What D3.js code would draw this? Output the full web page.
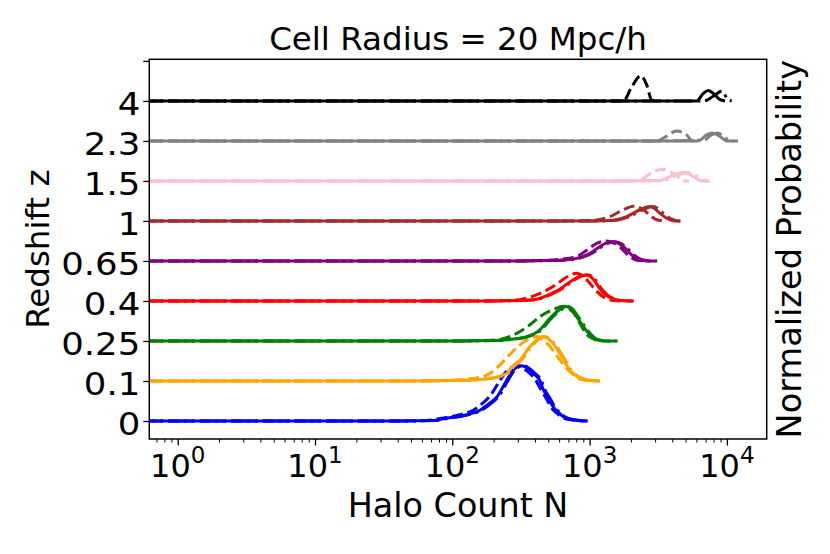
<!DOCTYPE html>
<html>
<head>
<meta charset="utf-8">
<script src="https://cdn.jsdelivr.net/npm/d3@7"></script>
<style>
    body { margin: 0; background: #fff; }
    text { font-family: "DejaVu Sans", sans-serif; fill: #000; }
</style>
</head>
<body>
<div id="chart"></div>
<script>
// redshift levels, bottom to top
const redshiftLabels = ['0', '0.1', '0.25', '0.4', '0.65', '1', '1.5', '2.3', '4'];
const yTickValues = [0, 1, 2, 3, 4, 5, 6, 7, 8, 9];
const xMajorTicks = [1, 10, 100, 1000, 10000];
const xTickExponents = ['0', '1', '2', '3', '4'];

// curves: [halo count N, normalized probability]
const z0 = {
    solid:   [[0.5,0],[40,0],[72,0.01],[91,0.07],[125,0.15],[159,0.27],[188,0.45],[211,0.6],[249,1.02],[277,1.27],[320,1.38],[387,1.2],[435,1.0],[458,0.8],[515,0.5],[541,0.36],[609,0.18],[640,0.11],[757,0.03],[952,0]],
    dashed:  [[0.5,0],[40,0],[65,0.01],[84,0.07],[112,0.15],[142,0.27],[167,0.45],[188,0.62],[221,1.0],[250,1.25],[300,1.38],[350,1.25],[400,1.05],[440,0.8],[495,0.5],[520,0.36],[585,0.18],[615,0.11],[730,0.03],[930,0]],
    dashdot: [[0.5,0],[40,0],[74,0.01],[94,0.07],[128,0.15],[163,0.27],[193,0.45],[216,0.6],[255,1.02],[284,1.27],[328,1.38],[397,1.2],[446,1.0],[470,0.8],[528,0.5],[555,0.36],[624,0.18],[656,0.11],[775,0.03],[970,0]]
};
const z01 = {
    solid:   [[0.5,0],[50,0],[100,0.01],[159,0.04],[211,0.1],[249,0.19],[277,0.38],[311,0.52],[368,0.86],[458,1.11],[541,0.94],[626,0.61],[720,0.27],[851,0.07],[1000,0.01],[1190,0]],
    dashed:  [[0.5,0],[50,0],[100,0.02],[140,0.06],[167,0.11],[188,0.19],[222,0.4],[278,0.75],[348,1.02],[412,1.11],[470,1.0],[515,0.86],[609,0.52],[720,0.23],[850,0.05],[1000,0.01],[1150,0]],
    dashdot: [[0.5,0],[50,0],[102,0.01],[163,0.04],[216,0.1],[255,0.19],[284,0.38],[319,0.52],[377,0.86],[469,1.11],[554,0.94],[641,0.61],[738,0.27],[872,0.07],[1025,0.01],[1200,0]]
};
const z025 = {
    solid:   [[0.5,0],[100,0],[200,0.01],[263,0.04],[348,0.11],[435,0.28],[515,0.57],[609,0.79],[681,0.86],[740,0.78],[805,0.61],[900,0.36],[1007,0.15],[1127,0.03],[1300,0],[1575,0]],
    dashed:  [[0.5,0],[100,0],[170,0.01],[222,0.04],[294,0.19],[360,0.38],[435,0.61],[576,0.82],[645,0.87],[700,0.82],[770,0.69],[875,0.36],[960,0.15],[1040,0.07],[1150,0.01],[1330,0]],
    dashdot: [[0.5,0],[100,0],[205,0.01],[270,0.04],[357,0.11],[446,0.28],[528,0.57],[625,0.79],[700,0.86],[760,0.78],[826,0.61],[925,0.36],[1035,0.15],[1160,0.03],[1350,0],[1600,0]]
};
const z04 = {
    solid:   [[0.5,0],[150,0],[300,0.01],[390,0.03],[515,0.17],[609,0.3],[681,0.42],[760,0.53],[850,0.62],[952,0.65],[1060,0.55],[1191,0.3],[1300,0.16],[1490,0.05],[1700,0.01],[2050,0]],
    dashed:  [[0.5,0],[150,0],[250,0.01],[330,0.05],[410,0.15],[487,0.27],[576,0.42],[681,0.6],[805,0.69],[900,0.62],[1000,0.45],[1120,0.25],[1300,0.07],[1500,0.01],[1750,0]],
    dashdot: [[0.5,0],[150,0],[310,0.01],[400,0.03],[530,0.17],[625,0.3],[700,0.42],[780,0.53],[875,0.62],[980,0.65],[1090,0.55],[1225,0.3],[1340,0.16],[1530,0.05],[1750,0.01],[2100,0]]
};
const z065 = {
    solid:   [[0.5,0],[300,0],[500,0.01],[681,0.03],[820,0.07],[952,0.15],[1070,0.25],[1191,0.36],[1330,0.45],[1490,0.48],[1620,0.44],[1760,0.36],[2026,0.15],[2328,0.03],[2700,0],[3083,0]],
    dashed:  [[0.5,0],[300,0],[450,0.01],[600,0.04],[805,0.11],[952,0.27],[1127,0.44],[1330,0.5],[1480,0.46],[1665,0.35],[1900,0.15],[2150,0.03],[2500,0]],
    dashdot: [[0.5,0],[300,0],[520,0.01],[705,0.03],[850,0.07],[985,0.15],[1110,0.25],[1235,0.36],[1380,0.45],[1545,0.48],[1680,0.44],[1825,0.36],[2100,0.15],[2410,0.03],[2800,0],[3100,0]]
};
const z1 = {
    solid:   [[0.5,0],[600,0],[1100,0],[1409,0.01],[1862,0.11],[2328,0.28],[2754,0.36],[3000,0.3],[3260,0.19],[3600,0.08],[3855,0.03],[4200,0],[4553,0]],
    dashed:  [[0.5,0],[600,0],[1000,0.01],[1409,0.11],[1760,0.28],[2081,0.37],[2462,0.28],[2800,0.12],[3083,0.03],[3500,0]],
    dashdot: [[0.5,0],[600,0],[1150,0],[1480,0.01],[1950,0.11],[2450,0.28],[2913,0.36],[3170,0.3],[3450,0.19],[3800,0.08],[4080,0.03],[4400,0],[4600,0]]
};
const z15 = {
    solid:   [[0.5,0],[1500,0],[3260,0.01],[4077,0.15],[4813,0.21],[5300,0.17],[5690,0.11],[6550,0],[7450,0]],
    dashed:  [[0.5,0],[1500,0],[2100,0],[2328,0.02],[2913,0.23],[3350,0.29],[4077,0.19],[4950,0],[5300,0]],
    dashdot: [[0.5,0],[1500,0],[3500,0.01],[4400,0.15],[5203,0.21],[5700,0.17],[6100,0.11],[7000,0],[7450,0]]
};
const z23 = {
    solid:   [[0.5,0],[3000,0],[6000,0],[6370,0.02],[7125,0.15],[7850,0.2],[8910,0.11],[9970,0],[11140,0]],
    dashed:  [[0.5,0],[3000,0],[3083,0],[3645,0.12],[4300,0.25],[5093,0.15],[5600,0],[6000,0]],
    dashdot: [[0.5,0],[3000,0],[6800,0.02],[7700,0.15],[8550,0.2],[9500,0.11],[10600,0],[12050,0]]
};
const z4 = {
    solid:   [[0.5,0],[3000,0],[6025,0],[6735,0.19],[7325,0.26],[8190,0.15],[8910,0.03],[9690,0]],
    dashed:  [[0.5,0],[1500,0],[1760,0],[2026,0.35],[2360,0.63],[2606,0.4],[2834,0.02],[3000,0]],
    dashdot: [[0.5,0],[3000,0],[6800,0],[7900,0.11],[9160,0.24],[10240,0.03],[10840,0]]
};
const curvesByLevel = [z0, z01, z025, z04, z065, z1, z15, z23, z4];

const lineColors = ['#0000ff', '#ffa500', '#008000', '#ff0000', '#800080', '#a52a2a', '#ffc0cb', '#808080', '#000000'];
const dashStyles = {solid: null, dashed: '11,4.8', dashdot: '19,4.8,3,4.8'};

const width = 830;
const height = 554;
const margin = {top: 59.3, right: 63.3, bottom: 115, left: 149.3};
const plotW = width - margin.left - margin.right;
const plotH = height - margin.top - margin.bottom;

const svg = d3.select('#chart')
    .append('svg')
    .attr('width', width)
    .attr('height', height);

const xScale = d3.scaleLog()
    .domain([0.621, 19495])
    .range([0, plotW]);

const yScale = d3.scaleLinear()
    .domain([-0.45, 9.04])
    .range([plotH, 0]);

const g = svg.append('g')
    .attr('transform', `translate(${margin.left},${margin.top})`);

g.append('clipPath')
    .attr('id', 'plot-clip')
  .append('rect')
    .attr('width', plotW)
    .attr('height', plotH);

// curves
const lines = g.append('g').attr('clip-path', 'url(#plot-clip)');
curvesByLevel.forEach((set, level) => {
    const line = d3.line()
        .x(d => xScale(d[0]))
        .y(d => yScale(level + d[1]))
        .curve(d3.curveMonotoneX);
    ['solid', 'dashed', 'dashdot'].forEach(style => {
        lines.append('path')
            .datum(set[style])
            .attr('d', line)
            .attr('fill', 'none')
            .attr('stroke', lineColors[level])
            .attr('stroke-width', 3)
            .attr('stroke-linejoin', 'round')
            .attr('stroke-dasharray', dashStyles[style]);
    });
});

// x axis
const minorTicks = [];
[0.1, 1, 10, 100, 1000, 10000].forEach(dec => {
    for (let m = 2; m <= 9; m++) {
        const v = m * dec;
        if (v >= 0.621 && v <= 19495) minorTicks.push(v);
    }
});

const xAxisG = g.append('g')
    .attr('transform', `translate(0,${plotH})`);

xAxisG.append('g')
    .call(d3.axisBottom(xScale).tickValues(minorTicks).tickSize(3.5).tickFormat(''))
    .call(s => s.select('.domain').remove())
    .call(s => s.selectAll('line').attr('stroke-width', 1));

xAxisG.append('g')
    .call(d3.axisBottom(xScale).tickValues(xMajorTicks).tickSize(6.5).tickFormat(''))
    .call(s => s.select('.domain').remove())
    .call(s => s.selectAll('line').attr('stroke-width', 1.3));

xAxisG.selectAll('.x-label')
    .data(xMajorTicks)
  .enter()
  .append('text')
    .attr('class', 'x-label')
    .attr('x', d => xScale(d))
    .attr('y', 38)
    .attr('text-anchor', 'middle')
    .style('font-size', '32px')
    .each(function(d, i) {
        const t = d3.select(this);
        t.append('tspan').text('10');
        t.append('tspan')
            .attr('dy', -14)
            .style('font-size', '23px')
            .text(xTickExponents[i]);
    });

// y axis
g.append('g')
    .call(d3.axisLeft(yScale).tickValues(yTickValues).tickSize(6)
        .tickFormat(d => redshiftLabels[d] || ''))
    .call(s => s.select('.domain').remove())
    .call(s => s.selectAll('line').attr('stroke-width', 1.3))
    .call(s => s.selectAll('text')
        .attr('x', 0)
        .attr('transform', 'translate(-9,0) scale(1.11,1)')
        .attr('dy', '0.42em')
        .style('font-size', '32px')
        .style('font-family', '"DejaVu Sans", sans-serif')
        .attr('fill', '#000'));

// frame
g.append('rect')
    .attr('width', plotW)
    .attr('height', plotH)
    .attr('fill', 'none')
    .attr('stroke', '#000')
    .attr('stroke-width', 1.5);

// labels
svg.append('text')
    .attr('x', margin.left + plotW / 2)
    .attr('y', 50)
    .attr('text-anchor', 'middle')
    .style('font-size', '32.5px')
    .text('Cell Radius = 20 Mpc/h');

svg.append('text')
    .attr('x', margin.left + plotW / 2)
    .attr('y', 517)
    .attr('text-anchor', 'middle')
    .style('font-size', '33.4px')
    .text('Halo Count N');

svg.append('text')
    .attr('transform', `translate(49,${margin.top + plotH / 2}) rotate(-90)`)
    .attr('text-anchor', 'middle')
    .style('font-size', '32.5px')
    .text('Redshift z');

svg.append('text')
    .attr('transform', `translate(801,${margin.top + plotH / 2}) rotate(-90)`)
    .attr('text-anchor', 'middle')
    .style('font-size', '33.6px')
    .text('Normalized Probability');
</script>
</body>
</html>
